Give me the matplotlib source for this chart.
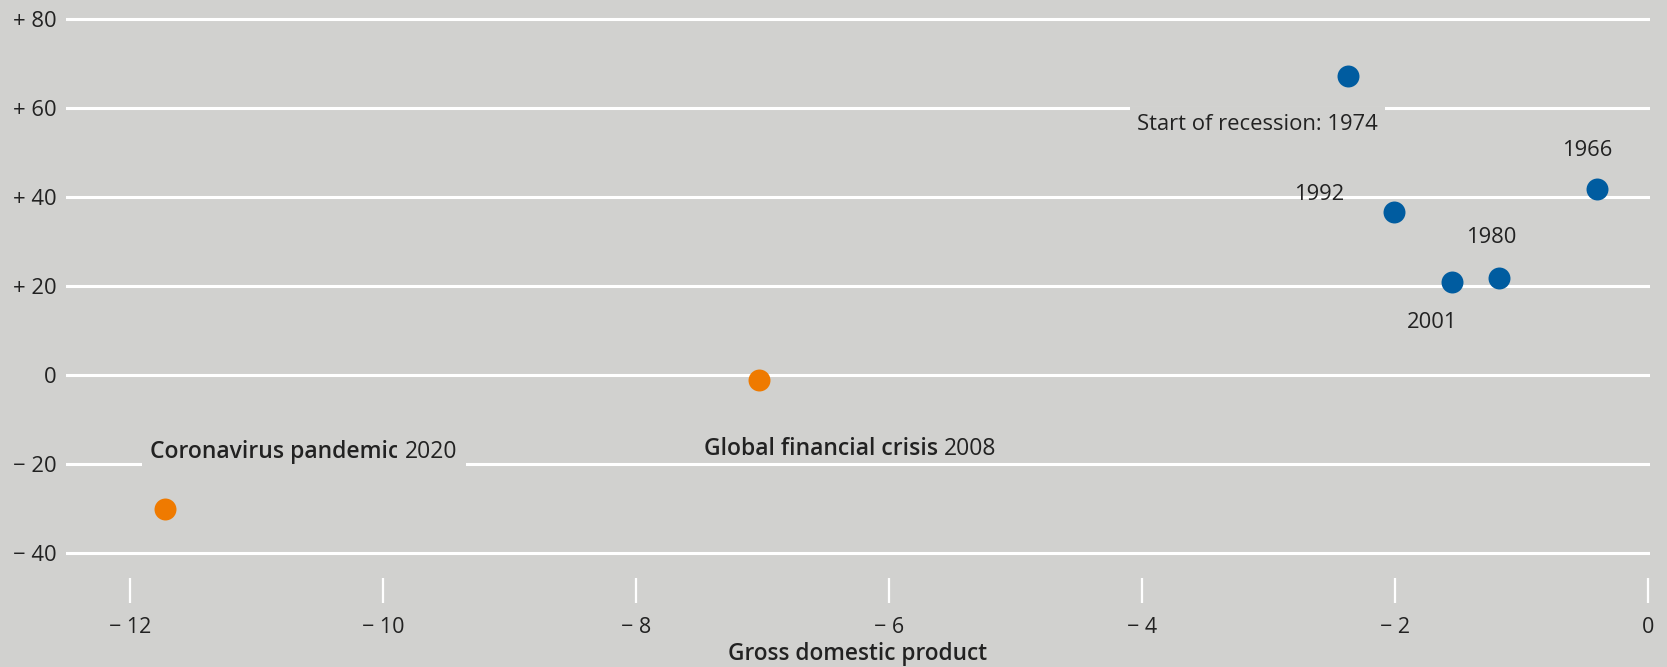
import matplotlib.pyplot as plt
from matplotlib.ticker import FixedLocator

# GDP change vs. value change (%) at start of recession
blue_years = ["1974", "1966", "1992", "1980", "2001"]
blue_gdp = [-2.37, -0.40, -2.01, -1.18, -1.55]
blue_val = [67.2, 41.7, 36.7, 21.9, 21.0]

orange_years = ["2008", "2020"]
orange_gdp = [-7.03, -11.72]
orange_val = [-1.2, -30.0]

yticks = [80, 60, 40, 20, 0, -20, -40]
ytick_labels = ["+ 80", "+ 60", "+ 40", "+ 20", "0", "\u2212 20", "\u2212 40"]
xticks = [-12, -10, -8, -6, -4, -2, 0]
xtick_labels = ["\u2212 12", "\u2212 10", "\u2212 8", "\u2212 6", "\u2212 4", "\u2212 2", "0"]

bg = "#d1d1cf"
blue = "#005ca0"
orange = "#ef7a00"
txt = "#222222"

plt.rcParams['font.family'] = ["Open Sans", "DejaVu Sans"]
plt.rcParams['font.size'] = 15.5

fig = plt.figure(figsize=(16.67, 6.67), dpi=100)
fig.patch.set_facecolor(bg)
ax = fig.add_axes([0.0396, 0.096, 0.9502, 0.889])
ax.set_facecolor(bg)

ax.set_xlim(-12.506, 0.015)
ax.set_ylim(-51.2, 82.0)

for s in ax.spines.values():
    s.set_visible(False)

ax.yaxis.set_major_locator(FixedLocator(yticks))
ax.set_yticklabels(ytick_labels, color=txt, fontsize=15.8)
ax.tick_params(axis='y', length=0, pad=7)
ax.grid(axis='y', color='white', linewidth=2.2, zorder=0)
ax.set_axisbelow(True)

ax.xaxis.set_major_locator(FixedLocator(xticks))
ax.set_xticklabels(xtick_labels, color=txt, fontsize=15.5)
ax.tick_params(axis='x', direction='in', length=18, width=1.6, color='white', pad=10)

ax.set_xlabel("Gross domestic product", fontsize=16.3, fontweight='semibold',
              color=txt, labelpad=3)

ax.scatter(blue_gdp, blue_val, s=250, color=blue, zorder=3, linewidths=0)
ax.scatter(orange_gdp, orange_val, s=250, color=orange, zorder=3, linewidths=0)

# annotations for blue points
ax.text(-4.04, 56.2, "Start of recession: " + blue_years[0], fontsize=15.8, color=txt,
        va='center', ha='left', zorder=2,
        bbox=dict(facecolor=bg, edgecolor='none', pad=5))
ax.text(-0.48, 50.5, blue_years[1], fontsize=15.8, color=txt, ha='center', va='center')
ax.text(-2.60, 40.5, blue_years[2], fontsize=15.8, color=txt, ha='center', va='center')
ax.text(-1.24, 31.0, blue_years[3], fontsize=15.8, color=txt, ha='center', va='center')
ax.text(-1.71, 11.7, blue_years[4], fontsize=15.8, color=txt, ha='center', va='center')

# annotations for orange points
t1 = ax.text(-11.84, -18.7, "Coronavirus pandemic", fontsize=16.5, fontweight='semibold',
             color=txt, ha='left', va='baseline', zorder=2,
             bbox=dict(facecolor=bg, edgecolor='none', pad=6))
ax.annotate(orange_years[1], xy=(1, 0), xycoords=t1, xytext=(4, 0),
            textcoords='offset points', fontsize=16.5, color=txt,
            ha='left', va='bottom', zorder=2,
            bbox=dict(facecolor=bg, edgecolor='none', pad=6))
t2 = ax.text(-7.46, -18.0, "Global financial crisis", fontsize=16.5, fontweight='semibold',
             color=txt, ha='left', va='baseline')
ax.annotate(orange_years[0], xy=(1, 0), xycoords=t2, xytext=(4, 0),
            textcoords='offset points', fontsize=16.5, color=txt,
            ha='left', va='bottom')

fig.savefig("out.png", dpi=100, facecolor=bg)
